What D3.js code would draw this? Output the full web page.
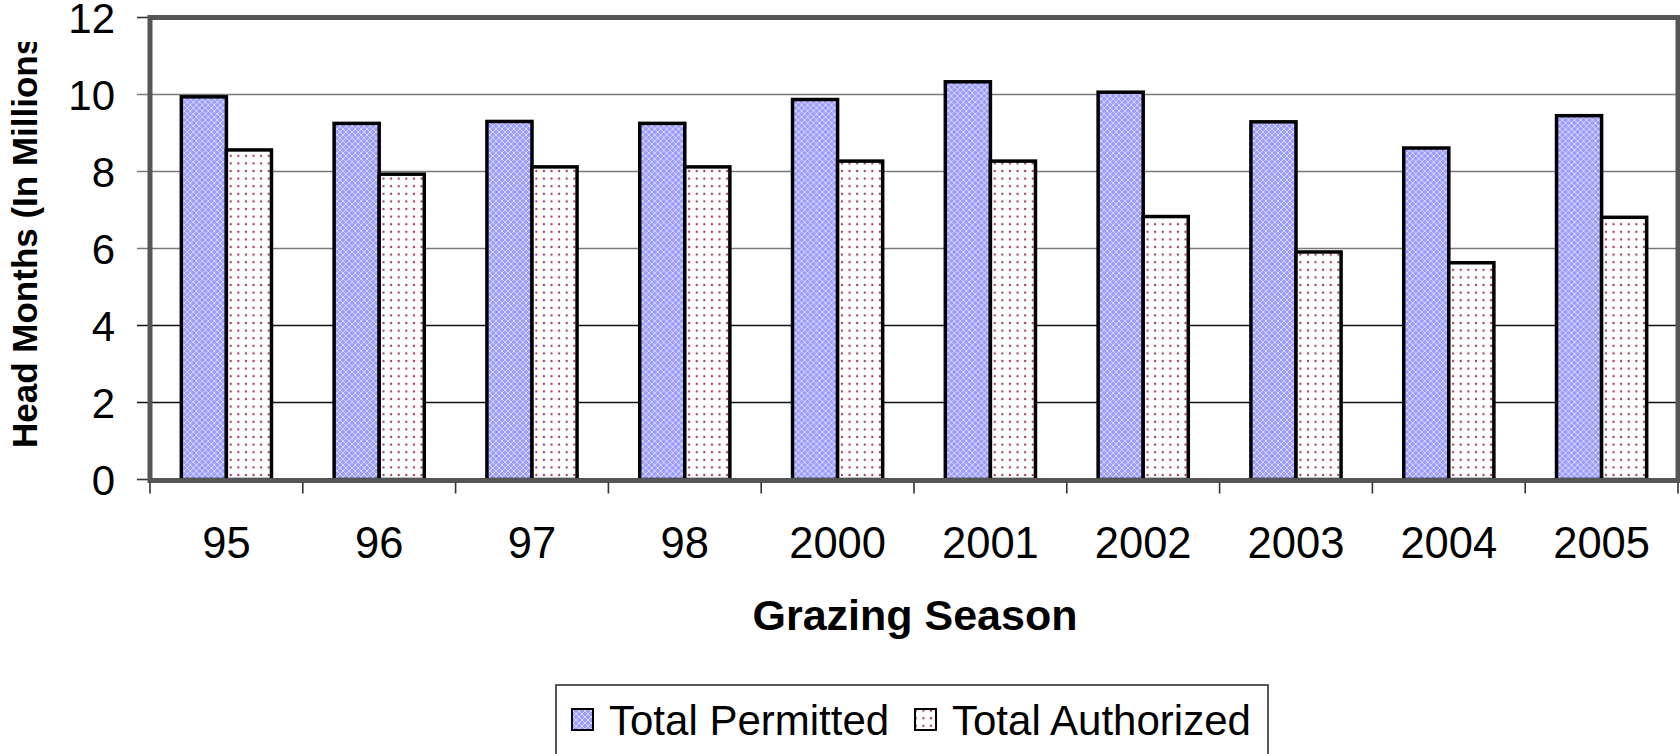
<!DOCTYPE html>
<html>
<head>
<meta charset="utf-8">
<script src="https://cdn.jsdelivr.net/npm/d3@7"></script>
<style>
  body { margin: 0; background: #fff; }
  svg { display: block; font-family: "Liberation Sans", Arial, sans-serif; }
</style>
</head>
<body>
<script>
// data
const seasons = ["95", "96", "97", "98", "2000", "2001", "2002", "2003", "2004", "2005"];
const permitted = [9.94, 9.25, 9.3, 9.25, 9.87, 10.33, 10.06, 9.29, 8.61, 9.45];
const authorized = [8.56, 7.93, 8.12, 8.12, 8.27, 8.27, 6.83, 5.91, 5.63, 6.81];
const seriesNames = ["Total Permitted", "Total Authorized"];
const yTicks = [0, 2, 4, 6, 8, 10, 12];

const width = 1680;
const height = 754;
const plot = { left: 150, right: 1678, top: 17.5, bottom: 479.5 };

const svg = d3
  .select("body")
  .append("svg")
  .attr("width", width)
  .attr("height", height);

const defs = svg.append("defs");

// blue lattice fill for permitted
const pPat = defs
  .append("pattern")
  .attr("id", "patP")
  .attr("patternUnits", "userSpaceOnUse")
  .attr("width", 6)
  .attr("height", 6);
pPat.append("rect").attr("width", 6).attr("height", 6).attr("fill", "#9d9dff");
pPat
  .append("path")
  .attr("d", "M0,0L6,6M6,0L0,6")
  .attr("stroke", "#fff")
  .attr("stroke-width", 1)
  .attr("opacity", 0.6);

// pink dots fill for authorized
const aPat = defs
  .append("pattern")
  .attr("id", "patA")
  .attr("patternUnits", "userSpaceOnUse")
  .attr("width", 7.6)
  .attr("height", 7.6);
aPat.append("rect").attr("width", 7.6).attr("height", 7.6).attr("fill", "#fff");
aPat
  .append("circle")
  .attr("cx", 3.8)
  .attr("cy", 3.8)
  .attr("r", 1.2)
  .attr("fill", "#a8386c");

defs
  .append("clipPath")
  .attr("id", "titleClip")
  .append("rect")
  .attr("x", 0)
  .attr("y", 42)
  .attr("width", 80)
  .attr("height", 500);

const fills = ["url(#patP)", "url(#patA)"];

const x0 = d3
  .scaleBand()
  .domain(seasons)
  .range([plot.left, plot.right])
  .paddingInner(0.41)
  .paddingOuter(0.205);

const x1 = d3.scaleBand().domain([0, 1]).range([0, x0.bandwidth()]);

const y = d3.scaleLinear().domain([0, 12]).range([plot.bottom, plot.top]);

// gridlines + y ticks
svg
  .append("g")
  .selectAll("line")
  .data(yTicks.filter((t) => t > 0 && t < 12))
  .enter()
  .append("line")
  .attr("x1", plot.left - 13)
  .attr("x2", plot.right)
  .attr("y1", (d) => y(d))
  .attr("y2", (d) => y(d))
  .attr("stroke", (d) => (d >= 6 ? "#7a7a7a" : "#111"))
  .attr("stroke-width", 1.6);

svg
  .append("g")
  .selectAll("line")
  .data([0, 12])
  .enter()
  .append("line")
  .attr("x1", plot.left - 13)
  .attr("x2", plot.left)
  .attr("y1", (d) => y(d))
  .attr("y2", (d) => y(d))
  .attr("stroke", "#333")
  .attr("stroke-width", 1.6);

svg
  .append("g")
  .selectAll("text")
  .data(yTicks)
  .enter()
  .append("text")
  .attr("x", 115)
  .attr("y", (d) => y(d) + 15)
  .attr("text-anchor", "end")
  .style("font-size", "42px")
  .text((d) => d);

// bars
const groups = svg
  .append("g")
  .selectAll("g")
  .data(seasons.map((s, i) => ({ season: s, vals: [permitted[i], authorized[i]] })))
  .enter()
  .append("g")
  .attr("transform", (d) => `translate(${x0(d.season)},0)`);

groups
  .selectAll("rect")
  .data((d) => d.vals)
  .enter()
  .append("rect")
  .attr("x", (d, i) => x1(i))
  .attr("y", (d) => y(d))
  .attr("width", x1.bandwidth())
  .attr("height", (d) => y(0) - y(d))
  .attr("fill", (d, i) => fills[i])
  .attr("stroke", "#000")
  .attr("stroke-width", 3.5);

// plot frame
svg
  .append("rect")
  .attr("x", plot.left)
  .attr("y", plot.top)
  .attr("width", plot.right - plot.left)
  .attr("height", plot.bottom - plot.top + 1)
  .attr("fill", "none")
  .attr("stroke", "#555")
  .attr("stroke-width", 5);

// x ticks at band edges
const edges = seasons.map((s) => x0(s) - (x0.step() - x0.bandwidth()) / 2);
edges.push(plot.left + x0.step() * seasons.length);
svg
  .append("g")
  .selectAll("line")
  .data(edges)
  .enter()
  .append("line")
  .attr("x1", (d) => d)
  .attr("x2", (d) => d)
  .attr("y1", plot.bottom + 3)
  .attr("y2", plot.bottom + 14)
  .attr("stroke", "#333")
  .attr("stroke-width", 1.6);

svg
  .append("g")
  .selectAll("text")
  .data(seasons)
  .enter()
  .append("text")
  .attr("x", (d) => x0(d) + x0.bandwidth() / 2)
  .attr("y", 558)
  .attr("text-anchor", "middle")
  .style("font-size", "43.5px")
  .text((d) => d);

// axis titles
svg
  .append("text")
  .attr("x", (plot.left + plot.right) / 2 + 1)
  .attr("y", 630)
  .attr("text-anchor", "middle")
  .style("font-size", "43px")
  .style("font-weight", "bold")
  .text("Grazing Season");

svg
  .append("g")
  .attr("clip-path", "url(#titleClip)")
  .append("text")
  .attr("transform", "translate(37,448) rotate(-90)")
  .style("font-size", "35px")
  .style("font-weight", "bold")
  .text("Head Months (In Millions)");

// legend
const legend = svg.append("g");
legend
  .append("rect")
  .attr("x", 556)
  .attr("y", 685)
  .attr("width", 712)
  .attr("height", 80)
  .attr("fill", "#fff")
  .attr("stroke", "#222")
  .attr("stroke-width", 1.5);

const legendX = [572, 915];
seriesNames.forEach((name, i) => {
  legend
    .append("rect")
    .attr("x", legendX[i])
    .attr("y", 709)
    .attr("width", 21)
    .attr("height", 21)
    .attr("fill", fills[i])
    .attr("stroke", "#000")
    .attr("stroke-width", 2);
  legend
    .append("text")
    .attr("x", legendX[i] + 37)
    .attr("y", 735)
    .style("font-size", "42px")
    .text(name);
});
</script>
</body>
</html>
